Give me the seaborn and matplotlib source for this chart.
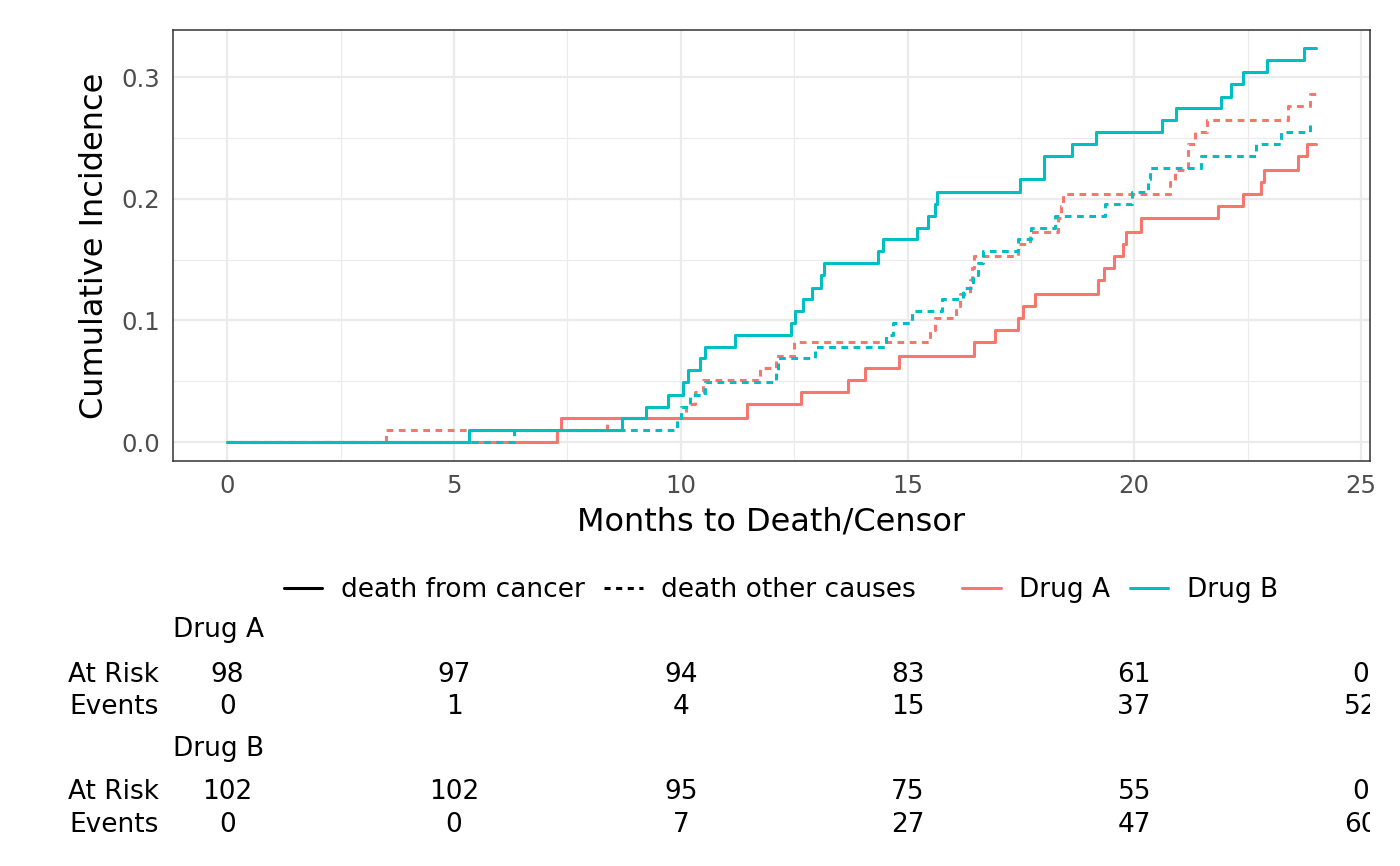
import numpy as np
import pandas as pd
import matplotlib
matplotlib.use('Agg')
import matplotlib.pyplot as plt
import seaborn as sns
from matplotlib.lines import Line2D

# ========== DATA ==========
# step times (months) and cumulative incidence after each step
a_cancer_t = [0, 7.27, 7.36, 11.45, 12.65, 13.69, 14.06, 14.81, 16.46, 16.93, 17.43, 17.54, 17.81,
              19.19, 19.33, 19.55, 19.76, 19.82, 20.15, 21.84, 22.41, 22.79, 22.86, 23.61, 23.80, 24.0]
a_cancer_v = [0, 0.010, 0.020, 0.031, 0.041, 0.051, 0.061, 0.071, 0.082, 0.092, 0.102, 0.112, 0.122,
              0.133, 0.143, 0.153, 0.163, 0.173, 0.184, 0.194, 0.204, 0.214, 0.224, 0.235, 0.245, 0.245]

a_other_t = [0, 3.50, 8.37, 10.11, 10.31, 10.48, 11.74, 12.11, 12.49, 15.50, 15.60, 16.08, 16.15,
             16.38, 16.42, 16.47, 17.44, 17.70, 18.32, 18.38, 18.43, 20.78, 20.90, 21.19, 21.33,
             21.60, 23.39, 23.87, 24.0]
a_other_v = [0, 0.010, 0.020, 0.031, 0.041, 0.051, 0.061, 0.071, 0.082, 0.092, 0.102, 0.112, 0.122,
             0.133, 0.143, 0.153, 0.163, 0.173, 0.184, 0.194, 0.204, 0.214, 0.224, 0.245, 0.255,
             0.265, 0.276, 0.286, 0.286]

b_cancer_t = [0, 5.33, 8.70, 9.24, 9.72, 10.05, 10.16, 10.42, 10.53, 11.19, 12.44, 12.52, 12.70,
              12.90, 13.09, 13.15, 14.35, 14.46, 15.21, 15.45, 15.60, 15.64, 17.48, 18.01, 18.62,
              19.15, 20.62, 20.93, 21.92, 22.13, 22.40, 22.93, 23.74, 24.0]
b_cancer_v = [0, 0.010, 0.020, 0.029, 0.039, 0.049, 0.059, 0.069, 0.078, 0.088, 0.098, 0.108, 0.118,
              0.127, 0.137, 0.147, 0.157, 0.167, 0.176, 0.186, 0.196, 0.206, 0.216, 0.235, 0.245,
              0.255, 0.265, 0.275, 0.284, 0.294, 0.304, 0.314, 0.324, 0.324]

b_other_t = [0, 6.31, 9.91, 10.00, 10.20, 10.53, 12.10, 12.15, 12.97, 14.52, 14.67, 15.09, 15.75,
             16.23, 16.45, 16.55, 16.67, 17.44, 17.73, 18.25, 19.35, 19.94, 20.30, 20.35, 21.48,
             22.69, 23.24, 23.87]
b_other_v = [0, 0.010, 0.020, 0.029, 0.039, 0.049, 0.059, 0.069, 0.078, 0.088, 0.098, 0.108, 0.118,
             0.127, 0.137, 0.147, 0.157, 0.167, 0.176, 0.186, 0.196, 0.206, 0.216, 0.225, 0.235,
             0.245, 0.255, 0.265]

drugs = ['Drug A', 'Drug B']
causes = ['death from cancer', 'death other causes']
drug_colors = ['#F8766D', '#00BFC4']

# risk table
table_months = [0, 5, 10, 15, 20, 25]
a_at_risk = [98, 97, 94, 83, 61, 0]
a_events = [0, 1, 4, 15, 37, 52]
b_at_risk = [102, 102, 95, 75, 55, 0]
b_events = [0, 0, 7, 27, 47, 60]

# ========== LONG TABLE FOR SEABORN ==========
curves = [
    ('Drug A', causes[0], a_cancer_t, a_cancer_v),
    ('Drug A', causes[1], a_other_t, a_other_v),
    ('Drug B', causes[0], b_cancer_t, b_cancer_v),
    ('Drug B', causes[1], b_other_t, b_other_v),
]
df = pd.concat([pd.DataFrame({'month': t, 'incidence': v, 'drug': d, 'cause': c})
                for d, c, t, v in curves], ignore_index=True)

# ========== FIGURE ==========
sns.set_theme(style='white')
plt.rcParams['font.family'] = ['DejaVu Sans']
plt.rcParams['text.color'] = 'black'
plt.rcParams['axes.labelcolor'] = 'black'

W, H = 1400, 866
fig = plt.figure(figsize=(7, 4.33), dpi=200)
ax = fig.add_axes([173 / W, 1 - 461 / H, (1370 - 173) / W, (461 - 30) / H])

sns.lineplot(data=df, x='month', y='incidence', hue='drug', style='cause',
             hue_order=drugs, style_order=causes,
             palette=dict(zip(drugs, drug_colors)),
             dashes={causes[0]: '', causes[1]: (2.2, 1.8)},
             estimator=None, sort=False, drawstyle='steps-post',
             linewidth=1.1, legend=False, ax=ax)

ax.set_xlim(-1.2, 25.2)
ax.set_ylim(-0.0156, 0.3388)
ax.set_xticks([0, 5, 10, 15, 20, 25])
ax.set_xticks([2.5, 7.5, 12.5, 17.5, 22.5], minor=True)
ax.set_yticks([0, 0.1, 0.2, 0.3])
ax.set_yticklabels(['0.0', '0.1', '0.2', '0.3'])
ax.set_yticks([0.05, 0.15, 0.25], minor=True)
ax.grid(which='major', color='#EBEBEB', linewidth=0.8)
ax.grid(which='minor', color='#EBEBEB', linewidth=0.4)
ax.set_axisbelow(True)
for s in ax.spines.values():
    s.set_color('#333333')
    s.set_linewidth(0.55)
ax.tick_params(which='major', length=2.4, width=0.6, color='#333333',
               labelsize=8.8, labelcolor='#4D4D4D', pad=2.2)
ax.tick_params(which='minor', length=0)
ax.set_xlabel('Months to Death/Censor', fontsize=11.5, color='black', labelpad=3)
ax.set_ylabel('Cumulative Incidence', fontsize=11.5, color='black', labelpad=4)

# ========== LEGENDS ==========
cause_handles = [Line2D([], [], color='black', lw=1.1),
                 Line2D([], [], color='black', lw=1.1, dashes=(2, 1.8))]
drug_handles = [Line2D([], [], color=c, lw=1.1) for c in drug_colors]
leg_kw = dict(loc='center', ncol=2, frameon=False, fontsize=9.5, borderpad=0,
              handlelength=1.45, handletextpad=0.7, columnspacing=0.75, labelcolor='black')
fig.legend(cause_handles, causes, bbox_to_anchor=(600 / W, 1 - 590 / H), **leg_kw)
fig.legend(drug_handles, drugs, bbox_to_anchor=(1120 / W, 1 - 590 / H), **leg_kw)

# ========== RISK TABLE ==========
tab = fig.add_axes([173 / W, 0, (1370 - 173) / W, (866 - 600) / H])
tab.set_xlim(ax.get_xlim())
tab.set_ylim(866, 600)
tab.axis('off')
yax = tab.get_yaxis_transform()
rows = [('Drug A', 630, a_at_risk, a_events, 675, 707),
        ('Drug B', 749, b_at_risk, b_events, 792, 825)]
for name, y_name, risk, ev, y_risk, y_ev in rows:
    tab.text(0, y_name, name, transform=yax, ha='left', va='center', fontsize=9.5)
    tab.text(-14 / 1197, y_risk, 'At Risk', transform=yax, ha='right', va='center',
             fontsize=9.5, clip_on=False)
    tab.text(-14 / 1197, y_ev, 'Events', transform=yax, ha='right', va='center',
             fontsize=9.5, clip_on=False)
    for m, r, e in zip(table_months, risk, ev):
        tab.text(m, y_risk, str(r), ha='center', va='center', fontsize=9.5, clip_on=True)
        tab.text(m, y_ev, str(e), ha='center', va='center', fontsize=9.5, clip_on=True)

fig.savefig('out.png', dpi=200, facecolor='white')
